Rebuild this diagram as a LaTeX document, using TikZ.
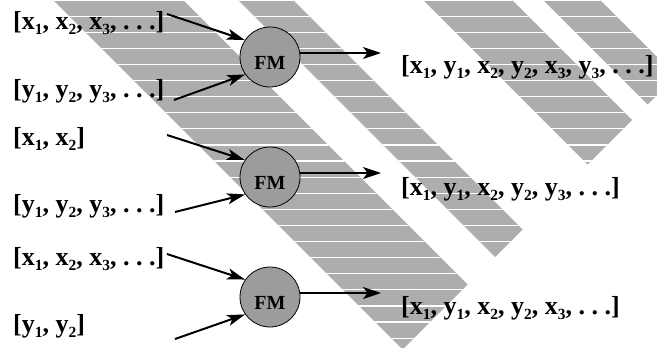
\documentclass[tikz,border=0pt]{standalone}
\usepackage{fontspec}
\setmainfont{Liberation Serif}
\usetikzlibrary{arrows.meta}
\definecolor{bandgray}{HTML}{ADADAD}
\definecolor{fmgray}{HTML}{9C9C9C}
\newcommand\subd[1]{\raisebox{-5pt}{\fontsize{15.5}{16}\selectfont #1}}
\newcommand\etc{.\ .\ .}
\begin{document}
\begin{tikzpicture}[x=1pt,y=-1pt,
  stream/.style={anchor=base west, inner sep=0pt, font=\fontsize{26}{30}\selectfont\bfseries},
  merge/.style={circle, draw=black, line width=0.8pt, fill=fmgray, minimum size=60pt,
    inner sep=0pt, text height=24pt, text depth=0pt, font=\fontsize{20}{22}\selectfont\bfseries},
  feed/.style={line width=2pt, -{Stealth[length=18pt,width=11pt,inset=4.5pt]}},
  emit/.style={line width=1.5pt, -{Stealth[length=18pt,width=12pt,inset=4.5pt]}},
  stripe/.style={white, line width=1.2pt}]
\useasboundingbox (0,0) rectangle (657,348);

% diagonal bands with horizontal white stripes
\begin{scope}
  \clip (0,0) rectangle (657,348);
  \def\bands{(53,0) -- (183,0) -- (467.5,284.5) -- (402.5,349.5) -- cycle
    (238,0) -- (293,0) -- (522.5,229.5) -- (495,257) -- cycle
    (423,0) -- (512,0) -- (632,120) -- (587.5,164.5) -- cycle
    (543,0) -- (600,0) -- (676,76) -- (647.5,104.5) -- cycle}
  \fill[bandgray] \bands;
  \clip \bands;
  \foreach \k in {0,...,21} \draw[stripe] (0,16.1*\k) -- (657,16.1*\k);
\end{scope}

% input streams
\node[stream] (in1) at (13,30)  {[x\subd{1}, x\subd{2}, x\subd{3}, \etc]};
\node[stream] (in2) at (13,97)  {[y\subd{1}, y\subd{2}, y\subd{3}, \etc]};
\node[stream] (in3) at (13,145) {[x\subd{1}, x\subd{2}]};
\node[stream] (in4) at (13,212) {[y\subd{1}, y\subd{2}, y\subd{3}, \etc]};
\node[stream] (in5) at (13,265) {[x\subd{1}, x\subd{2}, x\subd{3}, \etc]};
\node[stream] (in6) at (13,332) {[y\subd{1}, y\subd{2}]};

% merged output streams
\node[stream] (out1) at (401,74)  {[x\subd{1}, y\subd{1}, x\subd{2}, y\subd{2}, x\subd{3}, y\subd{3}, \etc]};
\node[stream] (out2) at (401,195) {[x\subd{1}, y\subd{1}, x\subd{2}, y\subd{2}, y\subd{3}, \etc]};
\node[stream] (out3) at (401,314) {[x\subd{1}, y\subd{1}, x\subd{2}, y\subd{2}, x\subd{3}, \etc]};

% fair-merge operators
\node[merge] (fm1) at (270,57)  {FM};
\node[merge] (fm2) at (270,177) {FM};
\node[merge] (fm3) at (270,297) {FM};

% arrow tails and heads
\coordinate (t1) at (167,14);
\coordinate (t2) at (174,100);
\coordinate (t3) at (167,135);
\coordinate (t4) at (175,212);
\coordinate (t5) at (167,254);
\coordinate (t6) at (175,339);
\coordinate (h1) at (381,53);
\coordinate (h2) at (381,173);
\coordinate (h3) at (381,293);

\draw[feed] (t1) -- (fm1.146);
\draw[feed] (t2) -- (fm1.215);
\draw[feed] (t3) -- (fm2.146);
\draw[feed] (t4) -- (fm2.215);
\draw[feed] (t5) -- (fm3.145);
\draw[feed] (t6) -- (fm3.215);

\draw[emit] (fm1.east |- h1) -- (h1);
\draw[emit] (fm2.east |- h2) -- (h2);
\draw[emit] (fm3.east |- h3) -- (h3);
\end{tikzpicture}
\end{document}
